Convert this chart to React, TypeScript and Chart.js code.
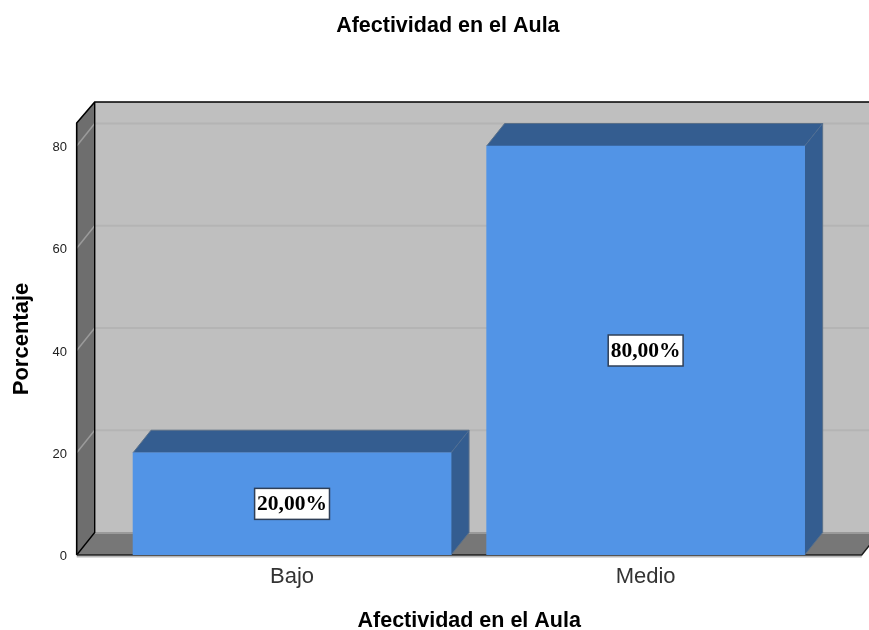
import React, { useEffect, useRef } from "react";
import { Chart, registerables } from "chart.js";

Chart.register(...registerables);

const chartTitle = "Afectividad en el Aula";
const xAxisTitle = "Afectividad en el Aula";
const yAxisTitle = "Porcentaje";
const categories = ["Bajo", "Medio"];
const percentages = [20, 80];
const percentLabels = ["20,00%", "80,00%"];

const DEPTH_X = 18;
const DEPTH_Y = 22.5;

function poly(ctx: CanvasRenderingContext2D, pts: number[][], fill: string) {
  ctx.beginPath();
  pts.forEach(([x, y], i) => (i ? ctx.lineTo(x, y) : ctx.moveTo(x, y)));
  ctx.closePath();
  ctx.fillStyle = fill;
  ctx.fill();
}

function line(ctx: CanvasRenderingContext2D, pts: number[][], color: string, width: number) {
  ctx.beginPath();
  pts.forEach(([x, y], i) => (i ? ctx.lineTo(x, y) : ctx.moveTo(x, y)));
  ctx.strokeStyle = color;
  ctx.lineWidth = width;
  ctx.stroke();
}

const box3d = {
  id: "box3d",
  afterLayout(chart: any) {
    if (chart.titleBlock) {
      chart.titleBlock.left += 17;
      chart.titleBlock.right += 17;
    }
  },
  beforeDatasetsDraw(chart: any) {
    const { ctx, chartArea: a, scales } = chart;
    const base = scales.y.getPixelForValue(0);
    const top = a.top - DEPTH_Y + 1.5;
    const backBottom = base - DEPTH_Y;
    const backLeft = a.left + DEPTH_X;
    const w = chart.width;
    ctx.save();
    // back wall
    poly(ctx, [[backLeft, top], [w + 30, top], [w + 30, backBottom], [backLeft, backBottom]], "#bfbfbf");
    // floor
    poly(ctx, [[a.left, base], [backLeft, backBottom], [a.right + DEPTH_X, backBottom], [a.right, base]], "#777777");
    line(ctx, [[backLeft, backBottom + 0.5], [w, backBottom + 0.5]], "#9a9a9a", 2);
    // left wall
    poly(ctx, [[a.left, a.top], [backLeft, top], [backLeft, backBottom], [a.left, base]], "#6e6e6e");
    // grid lines
    scales.y.ticks.forEach((t: any) => {
      if (t.value === 0) return;
      const y = scales.y.getPixelForValue(t.value);
      line(ctx, [[backLeft, y - DEPTH_Y], [w, y - DEPTH_Y]], "#b4b4b4", 2);
      line(ctx, [[a.left, y], [backLeft, y - DEPTH_Y]], "#9b9b9b", 1.5);
    });
    // outlines
    line(ctx, [[a.left, base], [a.left, a.top], [backLeft, top], [w, top]], "#000000", 1.6);
    line(ctx, [[backLeft, top], [backLeft, backBottom], [a.left, base]], "#000000", 1.4);
    line(ctx, [[a.left, base + 1.7], [a.right, base + 1.7]], "#b8b8b8", 1.5);
    line(ctx, [[a.left, base], [a.right, base], [a.right + DEPTH_X, backBottom]], "#1c1c1c", 1.5);
    // bar top and side faces
    const meta = chart.getDatasetMeta(0);
    meta.data.forEach((bar: any) => {
      const l = bar.x - bar.width / 2;
      const r = bar.x + bar.width / 2;
      const y = bar.y;
      const b = bar.base;
      poly(ctx, [[l, y], [l + DEPTH_X, y - DEPTH_Y], [r + DEPTH_X, y - DEPTH_Y], [r, y]], "#345d90");
      poly(ctx, [[r, y], [r + DEPTH_X, y - DEPTH_Y], [r + DEPTH_X, b - DEPTH_Y], [r, b]], "#345d90");
      line(ctx, [[l, y], [l + DEPTH_X, y - DEPTH_Y], [r + DEPTH_X, y - DEPTH_Y], [r + DEPTH_X, b - DEPTH_Y], [r, b]], "#5a7089", 1);
      line(ctx, [[r, y], [r + DEPTH_X, y - DEPTH_Y]], "#4f6d92", 1);
    });
    ctx.restore();
  },
  afterDatasetsDraw(chart: any) {
    const { ctx, scales } = chart;
    const meta = chart.getDatasetMeta(0);
    ctx.save();
    ctx.font = "bold 21.5px 'Liberation Serif'";
    ctx.textAlign = "center";
    ctx.textBaseline = "middle";
    meta.data.forEach((bar: any, i: number) => {
      const y = scales.y.getPixelForValue(percentages[i] / 2);
      const text = percentLabels[i];
      const tw = ctx.measureText(text).width;
      const bw = tw + 5;
      const bh = 31;
      ctx.fillStyle = "#ffffff";
      ctx.fillRect(bar.x - bw / 2, y - bh / 2, bw, bh);
      ctx.strokeStyle = "#2f3f57";
      ctx.lineWidth = 1.5;
      ctx.strokeRect(bar.x - bw / 2, y - bh / 2, bw, bh);
      ctx.fillStyle = "#000000";
      ctx.fillText(text, bar.x, y + 1);
    });
    ctx.restore();
  },
};

export default function App() {
  const ref = useRef<HTMLCanvasElement>(null);

  useEffect(() => {
    if (!ref.current) return;
    const chart = new Chart(ref.current, {
      type: "bar",
      data: {
        datasets: [
          {
            label: yAxisTitle,
            data: percentages.map((y, x) => ({ x, y })),
            backgroundColor: "#5294e6",
            barThickness: 318,
            categoryPercentage: 1,
            borderWidth: 0,
          },
        ],
      },
      plugins: [box3d],
      options: {
        responsive: false,
        animation: false,
        layout: { padding: { left: 0, right: 7.3, top: 0, bottom: 0 } },
        plugins: {
          legend: { display: false },
          tooltip: { enabled: false },
          title: {
            display: true,
            text: chartTitle,
            color: "#000000",
            font: { family: "'Liberation Sans'", size: 21.5, weight: "bold", lineHeight: 1.2 },
            padding: { top: 13, bottom: 84.2 },
          },
        },
        scales: {
          x: {
            type: "linear",
            offset: false,
            min: -0.609,
            max: 1.611,
            afterFit(s: any) {
              s.height = 75;
            },
            afterBuildTicks(s: any) {
              s.ticks = categories.map((_, i) => ({ value: i }));
            },
            grid: { display: false },
            border: { display: false },
            ticks: {
              callback: (v: any) => categories[v],
              color: "#333333",
              padding: 0.8,
              autoSkip: false,
              maxRotation: 0,
              font: { family: "'Liberation Sans'", size: 22 },
            },
            title: {
              display: true,
              text: xAxisTitle,
              color: "#000000",
              font: { family: "'Liberation Sans'", size: 21.5, weight: "bold", lineHeight: 1 },
              padding: { top: 0, bottom: -2.25 },
            },
          },
          y: {
            min: 0,
            max: 84.5,
            afterFit(s: any) {
              s.width = 76.7;
            },
            grid: { display: false },
            border: { display: false },
            ticks: {
              stepSize: 20,
              includeBounds: false,
              color: "#222222",
              padding: 1.7,
              labelOffset: 1.5,
              font: { family: "'Liberation Sans'", size: 13 },
            },
            title: {
              display: true,
              text: yAxisTitle,
              color: "#000000",
              font: { family: "'Liberation Sans'", size: 22, weight: "bold", lineHeight: 1 },
              padding: { top: 10.5, bottom: 0 },
            },
          },
        },
      },
    } as any);
    return () => chart.destroy();
  }, []);

  return (
    <div style={{ position: "absolute", left: 0, top: 0, width: 869, height: 630, background: "#ffffff" }}>
      <canvas ref={ref} width={869} height={630} style={{ display: "block" }} />
    </div>
  );
}
